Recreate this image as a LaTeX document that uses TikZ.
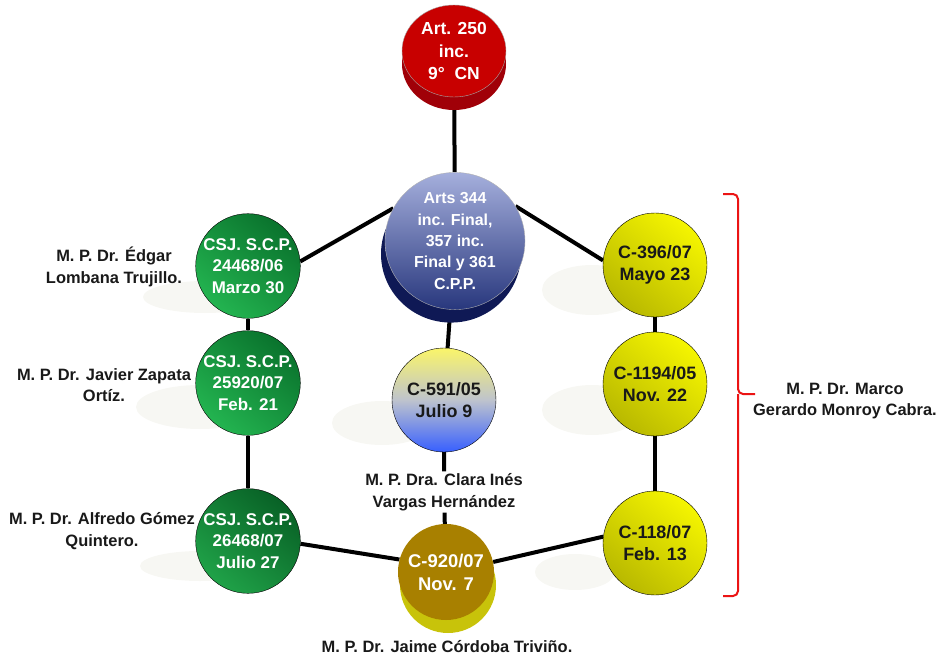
\documentclass[tikz,border=0pt]{standalone}
\usepackage{fontspec}
\setmainfont{Liberation Sans}
\usetikzlibrary{shapes.geometric, shadows, backgrounds}

\definecolor{artred}{RGB}{200,0,0}
\definecolor{artside}{RGB}{160,0,8}
\definecolor{cppup}{RGB}{165,175,220}
\definecolor{cppdown}{RGB}{40,55,125}
\definecolor{cppside}{RGB}{15,25,85}
\definecolor{csjdark}{RGB}{10,115,45}
\definecolor{csjlight}{RGB}{35,180,80}
\definecolor{cortelight}{RGB}{245,245,0}
\definecolor{cortedark}{RGB}{185,185,0}
\definecolor{juliotop}{RGB}{250,245,105}
\definecolor{juliomid}{RGB}{190,195,205}
\definecolor{juliobot}{RGB}{55,95,255}
\definecolor{novgold}{RGB}{168,128,0}
\definecolor{novside}{RGB}{200,195,10}
\definecolor{groundgray}{RGB}{247,247,243}
\definecolor{bracered}{RGB}{235,20,20}

\begin{document}
\begin{tikzpicture}[
    x=1bp, y=-1bp,
    line/.style = {line width=4bp, black},
    judge/.style = {align=center, inner sep=2pt, font=\fontsize{16.5}{21.5}\selectfont\bfseries, text=black!90},
    disc/.style = {circle, minimum size=104bp, inner sep=0pt, draw=black, thin, align=center,
                   font=\fontsize{17}{21.5}\selectfont\bfseries},
    csj/.style = {disc, text=white, top color=csjdark, bottom color=csjlight, shading angle=-40},
    corte/.style = {disc, text=black!90, top color=cortelight, bottom color=cortedark, shading angle=-40,
                    font=\fontsize{18}{22.5}\selectfont\bfseries},
    julio/.style = {disc, text=black!90, top color=juliotop, bottom color=juliobot, middle color=juliomid,
                    font=\fontsize{18}{22.5}\selectfont\bfseries},
    article/.style = {ellipse, minimum width=104bp, minimum height=92bp, inner sep=0pt, draw=gray!70, thin,
                      fill=artred, text=white, align=center, font=\fontsize{17.5}{23}\selectfont\bfseries,
                      general shadow={shadow yshift=-13bp, fill=artside}},
    codigo/.style = {ellipse, minimum width=140bp, minimum height=132bp, inner sep=0pt, draw=gray!60, thin,
                     top color=cppup, bottom color=cppdown, text=white, align=center,
                     font=\fontsize{16}{21.5}\selectfont\bfseries,
                     general shadow={shadow xshift=-4bp, shadow yshift=-13bp, fill=cppside}},
    nov/.style = {circle, minimum size=96bp, inner sep=0pt, fill=novgold, text=white, align=center,
                  font=\fontsize{18.5}{23}\selectfont\bfseries,
                  general shadow={shadow xshift=2bp, shadow yshift=-13bp, fill=novside}},
    ground/.style = {fill=groundgray, draw=none},
    brace/.style = {draw=bracered, line width=2bp, rounded corners=5bp}
]
\useasboundingbox (0,0) rectangle (945,660);

% Nodes - top
\node (art250) [article] at (454,51) {Art. 250\\inc.\\9°~~CN};
\node (cpp) [codigo] at (455,241) {Arts 344\\inc. Final,\\357 inc.\\Final y 361\\C.P.P.};

% Nodes - Corte Suprema
\node (csj1) [csj] at (248,266) {CSJ. S.C.P.\\24468/06\\Marzo 30};
\node (csj2) [csj] at (248,383) {CSJ. S.C.P.\\25920/07\\Feb. 21};
\node (csj3) [csj, top color=csjdark!85!black, bottom color=csjlight!90!black, shading angle=-40] at (248,541) {CSJ. S.C.P.\\26468/07\\Julio 27};

% Nodes - Corte Constitucional
\node (c396) [corte] at (655,265) {C-396/07\\Mayo 23};
\node (c1194) [corte] at (655,384) {C-1194/05\\Nov. 22};
\node (c118) [corte] at (655,543) {C-118/07\\Feb. 13};
\node (c591) [julio] at (444,400) {C-591/05\\Julio 9};
\node (c920) [nov] at (446,572) {C-920/07\\Nov. 7};

% Magistrados ponentes
\node (edgar) [judge] at (114,267) {M. P. Dr. Édgar\\Lombana Trujillo.};
\node (javier) [judge] at (104,385) {M. P. Dr. Javier Zapata\\Ortíz.};
\node (alfredo) [judge] at (102,531) {M. P. Dr. Alfredo Gómez\\Quintero.};
\node (clara) [judge] at (444,492) {M. P. Dra. Clara Inés\\Vargas Hernández};
\node (jaime) [judge] at (447,647) {M. P. Dr. Jaime Córdoba Triviño.};
\node (marco) [judge] at (845,401) {M. P. Dr. Marco\\Gerardo Monroy Cabra.};

% Brace for the constitutional rulings
\draw [brace] (723,194) -- (738,194) -- (738,394) -- (755,394);
\draw [brace] (723,596) -- (738,596) -- (738,394);

% Connectors and soft ground shadows
\begin{scope}[on background layer]
    \fill [ground] (205,297) ellipse [x radius=62, y radius=16];
    \fill [ground] (200,407) ellipse [x radius=64, y radius=22];
    \fill [ground] (200,566) ellipse [x radius=60, y radius=15];
    \fill [ground] (382,423) ellipse [x radius=50, y radius=22];
    \fill [ground] (592,290) ellipse [x radius=50, y radius=25];
    \fill [ground] (592,410) ellipse [x radius=50, y radius=25];
    \fill [ground] (575,572) ellipse [x radius=40, y radius=18];

    \draw [line] (art250) -- (cpp);
    \draw [line] (cpp.152) -- (csj1.5);
    \draw [line] (cpp.30) -- (c396.175);
    \draw [line] (cpp) -- (c591);
    \draw [line] (c591) -- (clara) -- (c920);
    \draw [line] (csj1) -- (csj2);
    \draw [line] (csj2) -- (csj3);
    \draw [line] (csj3.-3) -- (c920.165);
    \draw [line] (c920.12) -- (c118.173);
    \draw [line] (c118) -- (c1194);
    \draw [line] (c1194) -- (c396);
\end{scope}

\end{tikzpicture}
\end{document}
